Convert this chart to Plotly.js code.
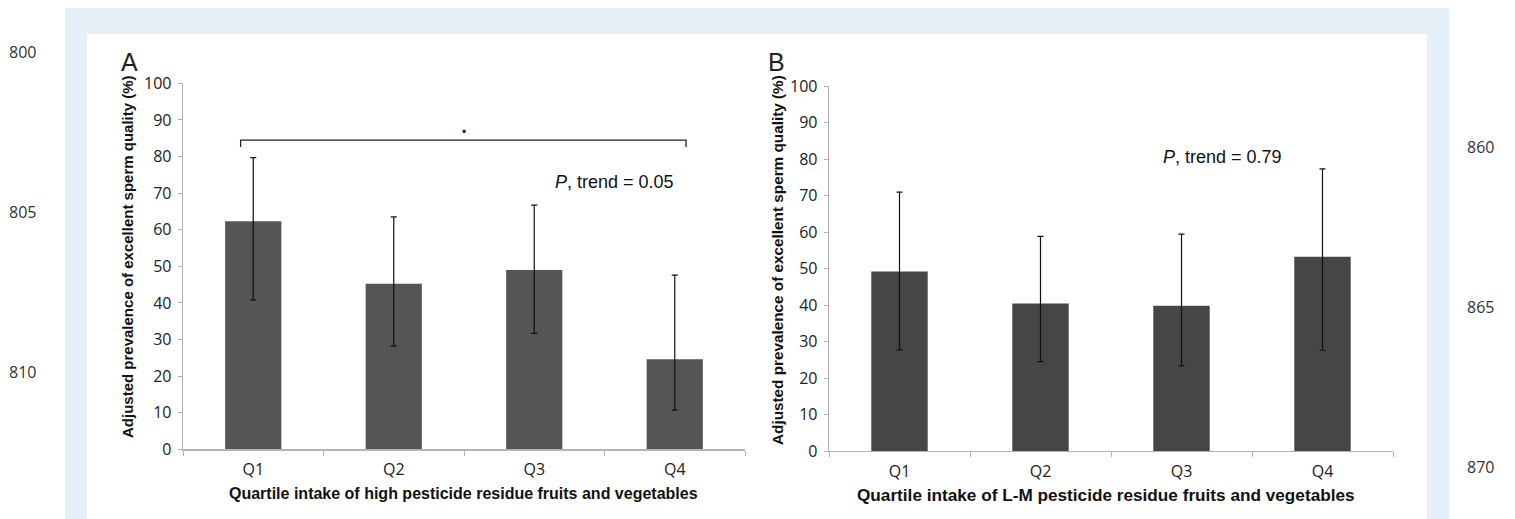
<!DOCTYPE html>
<html>
<head>
<meta charset="utf-8">
<script src="https://cdn.plot.ly/plotly-3.0.1.min.js"></script>
<style>
  html, body { margin: 0; padding: 0; background: #ffffff; }
  #chart { width: 1515px; height: 519px; }
</style>
</head>
<body>
<div id="chart"></div>
<script>
// ---- data ----
const categories = ['Q1', 'Q2', 'Q3', 'Q4'];
const highValues = [62.3, 45.2, 49.0, 24.6];
const highUpper  = [79.7, 63.5, 66.7, 47.6];
const highLower  = [40.8, 28.2, 31.7, 10.7];
const lmValues   = [49.2, 40.4, 39.8, 53.2];
const lmUpper    = [70.9, 58.8, 59.4, 77.3];
const lmLower    = [27.7, 24.5, 23.3, 27.6];
const yTicks     = [0, 10, 20, 30, 40, 50, 60, 70, 80, 90, 100];
const lineNumbersLeft  = ['800', '805', '810'];
const lineNumbersRight = ['860', '865', '870'];
const yTitle  = 'Adjusted prevalence of excellent sperm quality (%)';
const xTitleA = 'Quartile intake of high pesticide residue fruits and vegetables';
const xTitleB = 'Quartile intake of L-M pesticide residue fruits and vegetables';
const trendA = '<i>P</i>, trend = 0.05';
const trendB = '<i>P</i>, trend = 0.79';
const bracketX = [-0.09, 3.08];   // category-axis span of significance bracket
const bracketY = [84.5, 82.6];    // bracket top and leg end

// ---- helpers ----
const W = 1515, H = 519;
const px = v => v / W;
const py = v => 1 - v / H;
const plus  = (u, v) => u.map((x, i) => +(x - v[i]).toFixed(2));
const minus = (v, l) => v.map((x, i) => +(x - l[i]).toFixed(2));

const tickFont = { family: 'Open Sans, Noto Sans, sans-serif', size: 16, color: '#222' };
const boldFont = { family: 'Liberation Sans, Arial, sans-serif', size: 15, color: '#111' };

function barTrace(vals, up, lo, color, xa, ya) {
  return {
    type: 'bar', x: categories, y: vals, width: 0.4,
    xaxis: xa, yaxis: ya,
    marker: { color: color, line: { color: color, width: 0 } },
    error_y: { type: 'data', symmetric: false, array: plus(up, vals), arrayminus: minus(vals, lo),
               color: '#111', thickness: 1.2, width: 3 },
    hoverinfo: 'skip', showlegend: false
  };
}

const data = [
  barTrace(highValues, highUpper, highLower, '#555555', 'x', 'y'),
  barTrace(lmValues, lmUpper, lmLower, '#464646', 'x2', 'y2')
];

function xAxis(domain, anchor) {
  return {
    domain: domain, anchor: anchor, type: 'category', range: [-0.5, 3.5],
    showline: true, linecolor: '#b3b3b3', linewidth: 1.3,
    ticks: 'outside', tickson: 'boundaries', ticklen: 5, tickcolor: '#b3b3b3', tickwidth: 1,
    tickfont: tickFont, ticklabelstandoff: 5, showgrid: false, zeroline: false, fixedrange: true
  };
}
function yAxis(domain, anchor) {
  return {
    domain: domain, anchor: anchor, range: [0, 100], tickvals: yTicks,
    showline: true, linecolor: '#b3b3b3', linewidth: 1.3,
    ticks: 'outside', ticklen: 4, tickcolor: '#b3b3b3', tickwidth: 1,
    tickfont: tickFont, ticklabelstandoff: 3, showgrid: false, zeroline: false, fixedrange: true
  };
}

const shapes = [
  { type: 'rect', xref: 'paper', yref: 'paper', x0: px(65), x1: px(1449), y0: py(519), y1: py(8),
    fillcolor: '#e7eff9', line: { width: 0 }, layer: 'below' },
  { type: 'rect', xref: 'paper', yref: 'paper', x0: px(87), x1: px(1427), y0: py(519), y1: py(34),
    fillcolor: '#ffffff', line: { width: 0 }, layer: 'below' },
  { type: 'path', xref: 'x', yref: 'y',
    path: `M ${bracketX[0]} ${bracketY[1]} L ${bracketX[0]} ${bracketY[0]} L ${bracketX[1]} ${bracketY[0]} L ${bracketX[1]} ${bracketY[1]}`,
    line: { color: '#222', width: 1.3 } }
];

const annotations = [];
const lnFont = { family: 'Open Sans, Noto Sans, sans-serif', size: 16, color: '#333' };
lineNumbersLeft.forEach((t, i) => annotations.push({
  xref: 'paper', yref: 'paper', x: px(22), y: py(52 + 160 * i), text: t, showarrow: false,
  xanchor: 'center', yanchor: 'middle', font: lnFont }));
lineNumbersRight.forEach((t, i) => annotations.push({
  xref: 'paper', yref: 'paper', x: px(1480), y: py(147 + 160 * i), text: t, showarrow: false,
  xanchor: 'center', yanchor: 'middle', font: lnFont }));

// panel letters
const letterFont = { family: 'Liberation Sans, Arial, sans-serif', size: 25, color: '#222' };
annotations.push({ xref: 'paper', yref: 'paper', x: px(129), y: py(62), text: 'A', showarrow: false,
  xanchor: 'center', yanchor: 'middle', font: letterFont });
annotations.push({ xref: 'paper', yref: 'paper', x: px(776), y: py(62), text: 'B', showarrow: false,
  xanchor: 'center', yanchor: 'middle', font: letterFont });

// axis titles
annotations.push({ xref: 'paper', yref: 'paper', x: px(127), y: py(257), text: '<b>' + yTitle + '</b>',
  textangle: -90, showarrow: false, xanchor: 'center', yanchor: 'middle', font: boldFont });
annotations.push({ xref: 'paper', yref: 'paper', x: px(777), y: py(260), text: '<b>' + yTitle + '</b>',
  textangle: -90, showarrow: false, xanchor: 'center', yanchor: 'middle', font: Object.assign({}, boldFont, { size: 15.3 }) });
annotations.push({ xref: 'paper', yref: 'paper', x: px(463), y: py(493), text: '<b>' + xTitleA + '</b>',
  showarrow: false, xanchor: 'center', yanchor: 'middle', font: Object.assign({}, boldFont, { size: 16 }) });
annotations.push({ xref: 'paper', yref: 'paper', x: px(1106), y: py(495), text: '<b>' + xTitleB + '</b>',
  showarrow: false, xanchor: 'center', yanchor: 'middle', font: Object.assign({}, boldFont, { size: 17.2 }) });

// trend text
const trendFont = { family: 'Liberation Sans, Arial, sans-serif', size: 18, color: '#111' };
annotations.push({ xref: 'x', yref: 'y', x: 2.57, y: 73, text: trendA, showarrow: false,
  xanchor: 'center', yanchor: 'middle', font: trendFont });
annotations.push({ xref: 'x2', yref: 'y2', x: 2.29, y: 80.5, text: trendB, showarrow: false,
  xanchor: 'center', yanchor: 'middle', font: trendFont });
// significance mark
annotations.push({ xref: 'x', yref: 'y', x: 1.5, y: 86.7, text: '•', showarrow: false,
  xanchor: 'center', yanchor: 'middle', font: { family: 'Liberation Sans, Arial', size: 12, color: '#222' } });

const layout = {
  width: W, height: H,
  margin: { l: 0, r: 0, t: 0, b: 0, pad: 0 },
  paper_bgcolor: '#ffffff', plot_bgcolor: 'rgba(0,0,0,0)',
  showlegend: false,
  xaxis:  xAxis([px(183), px(745)], 'y'),
  yaxis:  yAxis([py(449.3), py(83.3)], 'x'),
  xaxis2: xAxis([px(829), px(1393)], 'y2'),
  yaxis2: yAxis([py(451), py(86)], 'x2'),
  shapes: shapes,
  annotations: annotations
};

Plotly.newPlot('chart', data, layout, { displayModeBar: false, staticPlot: true });
</script>
</body>
</html>
